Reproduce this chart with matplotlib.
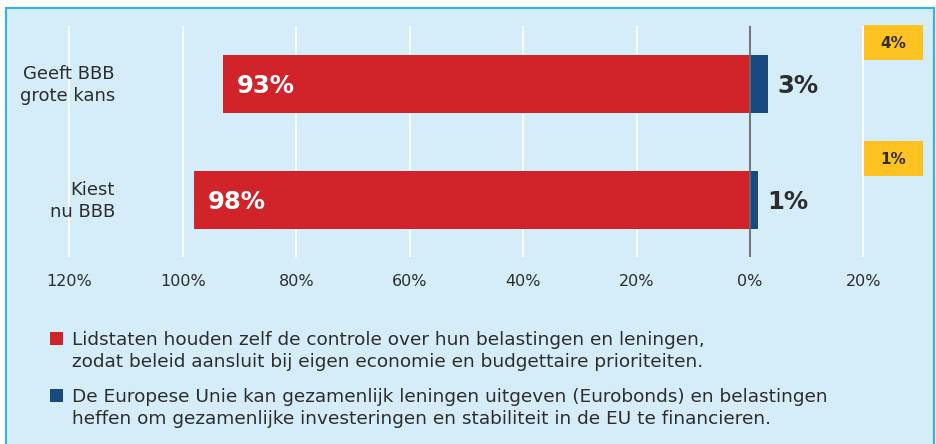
import matplotlib
matplotlib.use("Agg")
import matplotlib.pyplot as plt
from matplotlib.patches import Rectangle

categories = ["Geeft BBB\ngrote kans", "Kiest\nnu BBB"]
red_values = [93, 98]
blue_values = [3.2, 1.4]
blue_labels = [3, 1]
unknown_values = [4, 1]
tick_values = [-120, -100, -80, -60, -40, -20, 0, 20]
legend_labels = [
    "Lidstaten houden zelf de controle over hun belastingen en leningen,\nzodat beleid aansluit bij eigen economie en budgettaire prioriteiten.",
    "De Europese Unie kan gezamenlijk leningen uitgeven (Eurobonds) en belastingen\nheffen om gezamenlijke investeringen en stabiliteit in de EU te financieren.",
]

RED = "#d0232a"
BLUE = "#174a7e"
YELLOW = "#fec221"
BG = "#d5edf9"
BORDER = "#2bb5ee"
TXT = "#2d2d2d"
REG = "DejaVu Sans"
BOLD = "DejaVu Sans"

W, H = 936, 444
fig = plt.figure(figsize=(W / 100, H / 100), dpi=100)
fig.patch.set_facecolor("white")

def fx(px):
    return px / W

def fy(py):
    return 1 - py / H

# panel background with border
fig.patches.append(Rectangle((fx(6), fy(446)), fx(934) - fx(6), fy(8) - fy(446),
                             transform=fig.transFigure, facecolor=BG,
                             edgecolor=BORDER, linewidth=1.5, zorder=-5))

ppp = (864 - 70) / 7 / 20  # pixels per percent
ax = fig.add_axes([0, fy(257), 1, fy(26) - fy(257)])
ax.set_zorder(2)
ax.set_facecolor("none")
ax.set_xlim(-750 / ppp, (W - 750) / ppp)
ax.set_ylim(1 + 57 / 116, -0.5)
for s in ax.spines.values():
    s.set_visible(False)

for t in tick_values:
    if t == 0:
        ax.axvline(t, color="#6b6b6b", lw=1.3, zorder=3)
    else:
        ax.axvline(t, color="white", lw=1.3, zorder=1)

ax.set_xticks(tick_values)
ax.set_xticklabels([f"{abs(t)}%" for t in tick_values], fontsize=11.5,
                   color=TXT, family=REG)
ax.tick_params(axis="x", length=0, pad=12)
ax.set_yticks([])

ys = list(range(len(categories)))
ax.barh(ys, [-v for v in red_values], height=0.5, color=RED, zorder=2)
ax.barh(ys, blue_values, height=0.5, color=BLUE, zorder=2)

for i, cat in enumerate(categories):
    for j, line in enumerate(cat.split("\n")):
        ax.annotate(line, xy=(-750 / ppp + 115 / ppp, i), xytext=(0, 5.5 - 22 * j),
                    textcoords="offset pixels", ha="right", va="baseline",
                    fontsize=13, color=TXT, family=REG)
    ax.annotate(f"{red_values[i]}%", xy=(-red_values[i], i), xytext=(14, -8.5),
                textcoords="offset pixels", ha="left", va="baseline",
                fontsize=17.5, fontweight="bold", color="white", family=BOLD, zorder=4)
    ax.annotate(f"{blue_labels[i]}%", xy=(blue_values[i], i), xytext=(9, -8.5),
                textcoords="offset pixels", ha="left", va="baseline",
                fontsize=17.5, fontweight="bold", color=TXT, family=BOLD, zorder=4)
    # "weet niet" box
    bx0, bx1 = (864 - 750) / ppp, (923 - 750) / ppp
    by = i - 41.5 / 116
    ax.barh(by, bx1 - bx0, left=bx0, height=35 / 116, color=YELLOW, zorder=2, clip_on=False)
    ax.annotate(f"{unknown_values[i]}%", xy=((bx0 + bx1) / 2, by), xytext=(0, -5.5),
                textcoords="offset pixels", ha="center", va="baseline",
                fontsize=11, fontweight="bold", color=TXT, family=BOLD, zorder=4,
                annotation_clip=False)

# legend
colors = [RED, BLUE]
tops = [332, 389]
for lab, col, top in zip(legend_labels, colors, tops):
    fig.patches.append(Rectangle((fx(50), fy(top + 13)), fx(13), 13 / H,
                                 transform=fig.transFigure, facecolor=col,
                                 edgecolor="none", zorder=2))
    for j, line in enumerate(lab.split("\n")):
        fig.text(fx(72), fy(top + 13 + 22 * j), line, ha="left", va="baseline",
                 fontsize=13.3, color=TXT, family=REG)

fig.savefig("out.png", dpi=100, facecolor=fig.get_facecolor())
